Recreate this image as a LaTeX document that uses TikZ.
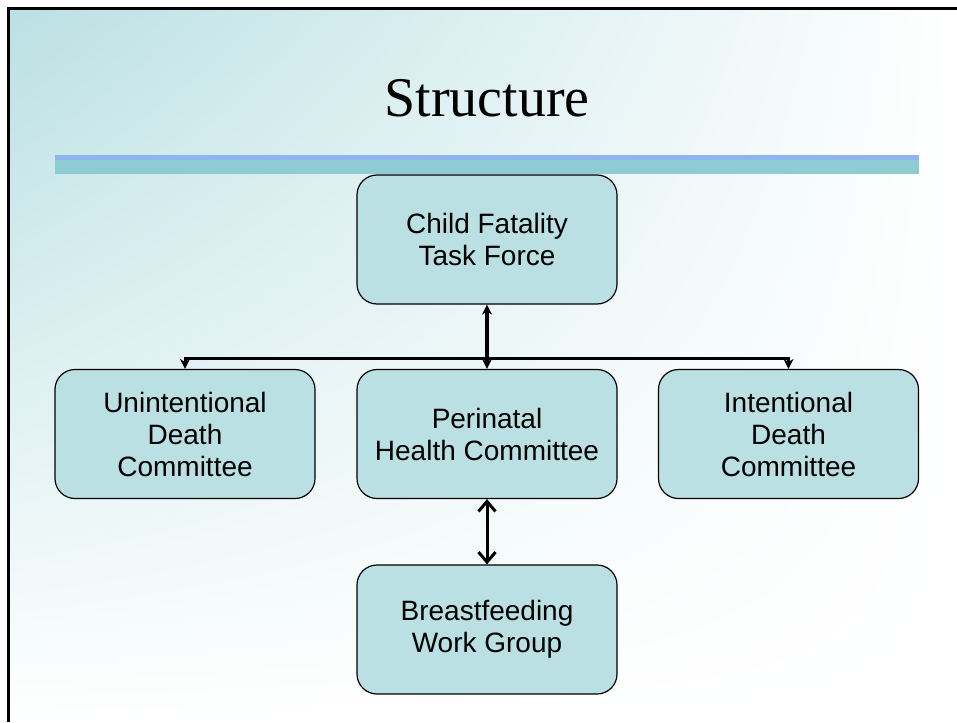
\documentclass[tikz,border=0pt]{standalone}
\usepackage{fontspec}
\setmainfont{Liberation Sans}
\newfontfamily\titlefont{Liberation Serif}
\usetikzlibrary{arrows.meta,shadings}
\definecolor{PaleTeal}{RGB}{186,224,227}
\definecolor{BarBlue}{RGB}{143,181,240}
\definecolor{BarTeal}{RGB}{142,203,210}
\tikzset{
  box/.style={rectangle,draw=black,fill=PaleTeal,line width=1.2pt,rounded corners=20pt,
    minimum width=260pt,minimum height=129pt,inner sep=0pt,align=center,
    font=\fontsize{28}{32}\selectfont},
  link/.style={draw=black,line width=3.5pt},
}
\tikzset{down/.style={-{Stealth[length=10pt,width=10pt]}}, updown/.style={{Stealth[length=10pt,width=10pt]}-{Stealth[length=10pt,width=10pt]}},
  barbs/.style={line width=3pt,{Straight Barb[length=10pt,width=17pt]}-{Straight Barb[length=10pt,width=17pt]}}}

\begin{document}
\begin{tikzpicture}[x=1pt,y=-1pt]
\useasboundingbox (0,0) rectangle (957,722);
% slide background and frame
\shade[upper left=PaleTeal,upper right=white,lower left=white,lower right=white] (8,8) rectangle (957,722);
\draw[line width=3pt] (8.5,722) -- (8.5,8.5) -- (957,8.5);
\node[anchor=base,font=\titlefont\fontsize{56}{60}\selectfont](title) at (487,117){Structure};
\fill[BarBlue] (55,155) rectangle (919,160);\fill[BarTeal] (55,160) rectangle (919,174);
% committees
\node[box](cfft) at (487,239.5){Child Fatality\\Task Force};
\node[box](udc) at (185,434){Unintentional\\Death\\Committee};\node[box](phc) at (487,434){Perinatal\\Health Committee};\node[box](idc) at (788.5,434){Intentional\\Death\\Committee};
\node[box](bwg) at (487,629.5){Breastfeeding\\Work Group};
\coordinate (bus) at (487,358);
\draw[link,updown] (cfft) -- (phc);
\draw[link,line width=3pt,down] (bus) -| (udc);\draw[link,line width=3pt,down] (bus) -| (idc);
\draw[barbs] (phc) -- (bwg);
\end{tikzpicture}
\end{document}
